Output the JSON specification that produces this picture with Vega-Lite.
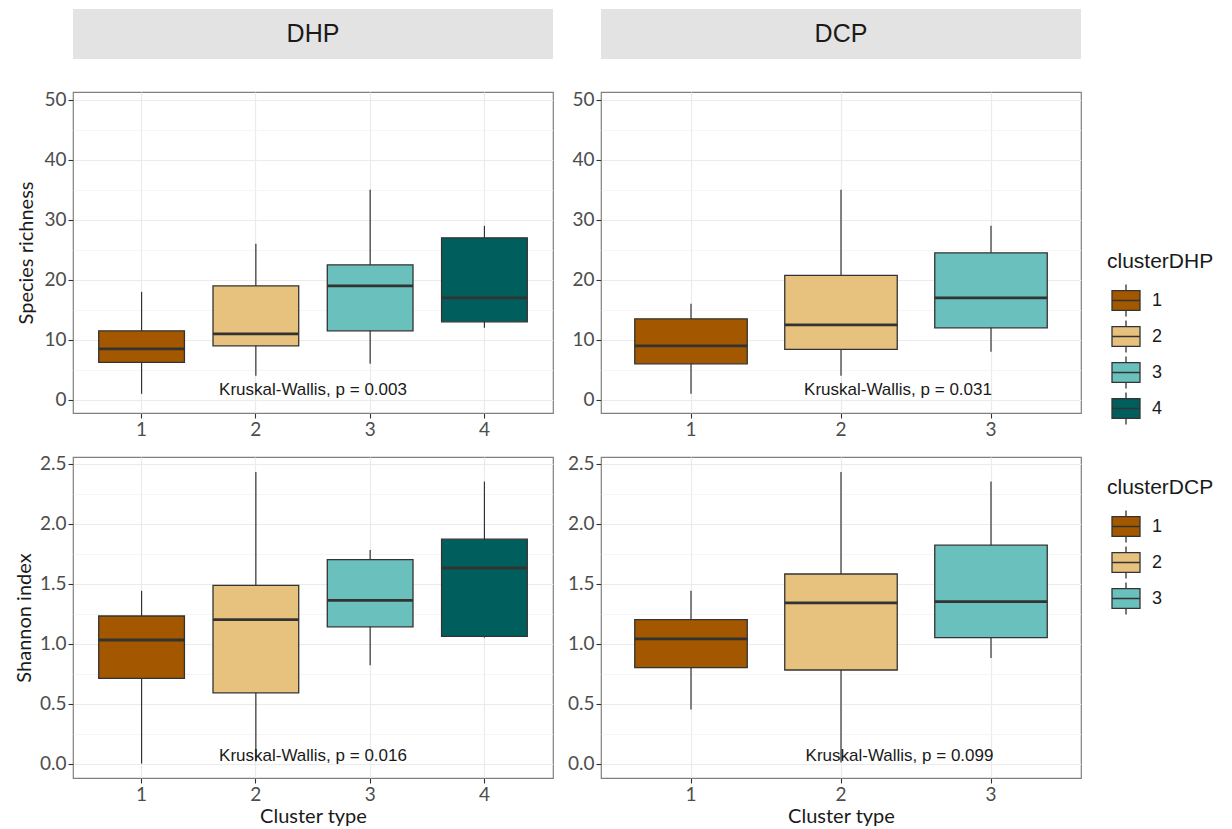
{
  "$schema": "https://vega.github.io/schema/vega-lite/v6.json",
  "background": "white",
  "padding": {"left": 13, "top": 9, "right": 0, "bottom": 0},
  "columns": 2,
  "spacing": {"row": 14, "column": 12},
  "datasets": {
    "dhp_rich": [
      {"clusterDHP": "1", "lower": 1, "q1": 6.25, "median": 8.5, "q3": 11.5, "upper": 18},
      {"clusterDHP": "2", "lower": 4, "q1": 9, "median": 11, "q3": 19, "upper": 26},
      {"clusterDHP": "3", "lower": 6, "q1": 11.5, "median": 19, "q3": 22.5, "upper": 35},
      {"clusterDHP": "4", "lower": 12, "q1": 13, "median": 17, "q3": 27, "upper": 29}
    ],
    "dcp_rich": [
      {"clusterDCP": "1", "lower": 1, "q1": 6, "median": 9, "q3": 13.5, "upper": 16},
      {"clusterDCP": "2", "lower": 4, "q1": 8.4, "median": 12.5, "q3": 20.75, "upper": 35},
      {"clusterDCP": "3", "lower": 8, "q1": 12, "median": 17, "q3": 24.5, "upper": 29}
    ],
    "dhp_shan": [
      {"clusterDHP": "1", "lower": 0, "q1": 0.71, "median": 1.03, "q3": 1.23, "upper": 1.44},
      {"clusterDHP": "2", "lower": 0.02, "q1": 0.59, "median": 1.2, "q3": 1.485, "upper": 2.43},
      {"clusterDHP": "3", "lower": 0.82, "q1": 1.14, "median": 1.36, "q3": 1.7, "upper": 1.78},
      {"clusterDHP": "4", "lower": 1.05, "q1": 1.06, "median": 1.63, "q3": 1.87, "upper": 2.35}
    ],
    "dcp_shan": [
      {"clusterDCP": "1", "lower": 0.45, "q1": 0.8, "median": 1.04, "q3": 1.2, "upper": 1.44},
      {"clusterDCP": "2", "lower": 0.01, "q1": 0.78, "median": 1.34, "q3": 1.58, "upper": 2.43},
      {"clusterDCP": "3", "lower": 0.88, "q1": 1.05, "median": 1.35, "q3": 1.82, "upper": 2.35}
    ]
  },
  "concat": [
    {
      "width": 480, "height": 50,
      "view": {"fill": "#E3E3E3", "stroke": null},
      "data": {"values": [{"panel": "DHP"}]},
      "mark": {"type": "text", "font": "Liberation Sans", "fontSize": 25, "color": "#1A1A1A"},
      "encoding": {
        "text": {"field": "panel"},
        "x": {"field": "panel", "type": "nominal", "axis": {"labels": false, "ticks": false, "domain": false, "grid": false, "title": null, "minExtent": 17}}
      }
    },
    {
      "width": 480, "height": 50,
      "view": {"fill": "#E3E3E3", "stroke": null},
      "data": {"values": [{"panel": "DCP"}]},
      "mark": {"type": "text", "font": "Liberation Sans", "fontSize": 25, "color": "#1A1A1A"},
      "encoding": {
        "text": {"field": "panel"},
        "x": {"field": "panel", "type": "nominal", "axis": {"labels": false, "ticks": false, "domain": false, "grid": false, "title": null, "minExtent": 17}}
      }
    },
    {
      "width": 480, "height": 321,
      "data": {"name": "dhp_rich"},
      "resolve": {"axis": {"y": "independent"}},
      "layer": [
        {
          "mark": {"type": "rule", "color": "#333333", "strokeWidth": 1.2},
          "encoding": {
            "x": {"field": "clusterDHP", "type": "nominal", "scale": {"type": "band", "domain": ["1", "2", "3", "4"], "paddingInner": 0, "paddingOuter": 0.1}, "axis": {"grid": true, "bandPosition": 0.5, "labelAngle": 0, "title": null}},
            "y": {"field": "lower", "type": "quantitative", "scale": {"domain": [-2.2, 51.3], "nice": false, "zero": false}, "axis": {"orient": "left", "values": [5, 15, 25, 35, 45], "grid": true, "gridColor": "#F2F2F2", "gridWidth": 0.8, "labels": false, "ticks": false, "title": null, "minExtent": 0}},
            "y2": {"field": "upper"}
          }
        },
        {
          "mark": {"type": "bar", "stroke": "#333333", "strokeWidth": 1.3, "width": {"band": 0.75}},
          "encoding": {
            "x": {"field": "clusterDHP", "type": "nominal", "scale": {"type": "band", "domain": ["1", "2", "3", "4"], "paddingInner": 0, "paddingOuter": 0.1}, "axis": {"grid": true, "bandPosition": 0.5, "labelAngle": 0, "title": null}},
            "y": {"field": "q1", "type": "quantitative", "scale": {"domain": [-2.2, 51.3], "nice": false, "zero": false}, "axis": {"orient": "left", "values": [0, 10, 20, 30, 40, 50], "grid": true, "title": "Species richness", "minExtent": 32, "titlePadding": 5}},
            "y2": {"field": "q3"},
            "color": {"field": "clusterDHP", "type": "nominal", "scale": {"domain": ["1", "2", "3", "4"], "range": ["#A35800", "#E6C27E", "#6AC0BC", "#005F5C"]}, "legend": {"title": "clusterDHP", "orient": "none", "legendX": 1034, "legendY": 242}}
          }
        },
        {
          "mark": {"type": "tick", "color": "#333333", "opacity": 1, "thickness": 2.8, "size": 85.7},
          "encoding": {
            "x": {"field": "clusterDHP", "type": "nominal", "scale": {"type": "band", "domain": ["1", "2", "3", "4"], "paddingInner": 0, "paddingOuter": 0.1}, "axis": {"grid": true, "bandPosition": 0.5, "labelAngle": 0, "title": null}},
            "y": {"field": "median", "type": "quantitative", "scale": {"domain": [-2.2, 51.3], "nice": false, "zero": false}, "axis": null}
          }
        },
        {
          "data": {"values": [{"clusterDHP": "2", "label": "Kruskal-Wallis, p = 0.003"}]},
          "mark": {"type": "text", "font": "Liberation Sans", "fontSize": 17, "color": "#1A1A1A", "baseline": "middle"},
          "encoding": {
            "x": {"field": "clusterDHP", "type": "nominal", "bandPosition": 1, "scale": {"type": "band", "domain": ["1", "2", "3", "4"], "paddingInner": 0, "paddingOuter": 0.1}, "axis": {"grid": true, "bandPosition": 0.5, "labelAngle": 0, "title": null}},
            "y": {"datum": 1.6, "type": "quantitative", "scale": {"domain": [-2.2, 51.3], "nice": false, "zero": false}, "axis": null},
            "text": {"field": "label"}
          }
        }
      ]
    },
    {
      "width": 480, "height": 321,
      "data": {"name": "dcp_rich"},
      "resolve": {"axis": {"y": "independent"}},
      "layer": [
        {
          "mark": {"type": "rule", "color": "#333333", "strokeWidth": 1.2},
          "encoding": {
            "x": {"field": "clusterDCP", "type": "nominal", "scale": {"type": "band", "domain": ["1", "2", "3"], "paddingInner": 0, "paddingOuter": 0.1}, "axis": {"grid": true, "bandPosition": 0.5, "labelAngle": 0, "title": null}},
            "y": {"field": "lower", "type": "quantitative", "scale": {"domain": [-2.2, 51.3], "nice": false, "zero": false}, "axis": {"orient": "left", "values": [5, 15, 25, 35, 45], "grid": true, "gridColor": "#F2F2F2", "gridWidth": 0.8, "labels": false, "ticks": false, "title": null, "minExtent": 0}},
            "y2": {"field": "upper"}
          }
        },
        {
          "mark": {"type": "bar", "stroke": "#333333", "strokeWidth": 1.3, "width": {"band": 0.75}},
          "encoding": {
            "x": {"field": "clusterDCP", "type": "nominal", "scale": {"type": "band", "domain": ["1", "2", "3"], "paddingInner": 0, "paddingOuter": 0.1}, "axis": {"grid": true, "bandPosition": 0.5, "labelAngle": 0, "title": null}},
            "y": {"field": "q1", "type": "quantitative", "scale": {"domain": [-2.2, 51.3], "nice": false, "zero": false}, "axis": {"orient": "left", "values": [0, 10, 20, 30, 40, 50], "grid": true, "title": null, "minExtent": 32}},
            "y2": {"field": "q3"},
            "fill": {"field": "clusterDCP", "type": "nominal", "scale": {"domain": ["1", "2", "3"], "range": ["#A35800", "#E6C27E", "#6AC0BC"]}, "legend": {"title": "clusterDCP", "orient": "none", "legendX": 1034, "legendY": 468}}
          }
        },
        {
          "mark": {"type": "tick", "color": "#333333", "opacity": 1, "thickness": 2.8, "size": 112.5},
          "encoding": {
            "x": {"field": "clusterDCP", "type": "nominal", "scale": {"type": "band", "domain": ["1", "2", "3"], "paddingInner": 0, "paddingOuter": 0.1}, "axis": {"grid": true, "bandPosition": 0.5, "labelAngle": 0, "title": null}},
            "y": {"field": "median", "type": "quantitative", "scale": {"domain": [-2.2, 51.3], "nice": false, "zero": false}, "axis": null}
          }
        },
        {
          "data": {"values": [{"clusterDCP": "2", "label": "Kruskal-Wallis, p = 0.031"}]},
          "mark": {"type": "text", "font": "Liberation Sans", "fontSize": 17, "color": "#1A1A1A", "baseline": "middle"},
          "encoding": {
            "x": {"field": "clusterDCP", "type": "nominal", "bandPosition": 0.88, "scale": {"type": "band", "domain": ["1", "2", "3"], "paddingInner": 0, "paddingOuter": 0.1}, "axis": {"grid": true, "bandPosition": 0.5, "labelAngle": 0, "title": null}},
            "y": {"datum": 1.6, "type": "quantitative", "scale": {"domain": [-2.2, 51.3], "nice": false, "zero": false}, "axis": null},
            "text": {"field": "label"}
          }
        }
      ]
    },
    {
      "width": 480, "height": 321,
      "data": {"name": "dhp_shan"},
      "resolve": {"axis": {"y": "independent"}},
      "layer": [
        {
          "mark": {"type": "rule", "color": "#333333", "strokeWidth": 1.2},
          "encoding": {
            "x": {"field": "clusterDHP", "type": "nominal", "scale": {"type": "band", "domain": ["1", "2", "3", "4"], "paddingInner": 0, "paddingOuter": 0.1}, "axis": {"grid": true, "bandPosition": 0.5, "labelAngle": 0, "title": "Cluster type", "titlePadding": 2}},
            "y": {"field": "lower", "type": "quantitative", "scale": {"domain": [-0.12, 2.555], "nice": false, "zero": false}, "axis": {"orient": "left", "values": [0.25, 0.75, 1.25, 1.75, 2.25], "grid": true, "gridColor": "#F2F2F2", "gridWidth": 0.8, "labels": false, "ticks": false, "title": null, "minExtent": 0}},
            "y2": {"field": "upper"}
          }
        },
        {
          "mark": {"type": "bar", "stroke": "#333333", "strokeWidth": 1.3, "width": {"band": 0.75}},
          "encoding": {
            "x": {"field": "clusterDHP", "type": "nominal", "scale": {"type": "band", "domain": ["1", "2", "3", "4"], "paddingInner": 0, "paddingOuter": 0.1}, "axis": {"grid": true, "bandPosition": 0.5, "labelAngle": 0, "title": "Cluster type", "titlePadding": 2}},
            "y": {"field": "q1", "type": "quantitative", "scale": {"domain": [-0.12, 2.555], "nice": false, "zero": false}, "axis": {"orient": "left", "values": [0, 0.5, 1, 1.5, 2, 2.5], "format": ".1f", "grid": true, "title": "Shannon index", "minExtent": 32, "titlePadding": 5}},
            "y2": {"field": "q3"},
            "color": {"field": "clusterDHP", "type": "nominal", "scale": {"domain": ["1", "2", "3", "4"], "range": ["#A35800", "#E6C27E", "#6AC0BC", "#005F5C"]}, "legend": {"title": "clusterDHP", "orient": "none", "legendX": 1034, "legendY": 242}}
          }
        },
        {
          "mark": {"type": "tick", "color": "#333333", "opacity": 1, "thickness": 2.8, "size": 85.7},
          "encoding": {
            "x": {"field": "clusterDHP", "type": "nominal", "scale": {"type": "band", "domain": ["1", "2", "3", "4"], "paddingInner": 0, "paddingOuter": 0.1}, "axis": {"grid": true, "bandPosition": 0.5, "labelAngle": 0, "title": "Cluster type", "titlePadding": 2}},
            "y": {"field": "median", "type": "quantitative", "scale": {"domain": [-0.12, 2.555], "nice": false, "zero": false}, "axis": null}
          }
        },
        {
          "data": {"values": [{"clusterDHP": "2", "label": "Kruskal-Wallis, p = 0.016"}]},
          "mark": {"type": "text", "font": "Liberation Sans", "fontSize": 17, "color": "#1A1A1A", "baseline": "middle"},
          "encoding": {
            "x": {"field": "clusterDHP", "type": "nominal", "bandPosition": 1, "scale": {"type": "band", "domain": ["1", "2", "3", "4"], "paddingInner": 0, "paddingOuter": 0.1}, "axis": {"grid": true, "bandPosition": 0.5, "labelAngle": 0, "title": "Cluster type", "titlePadding": 2}},
            "y": {"datum": 0.06, "type": "quantitative", "scale": {"domain": [-0.12, 2.555], "nice": false, "zero": false}, "axis": null},
            "text": {"field": "label"}
          }
        }
      ]
    },
    {
      "width": 480, "height": 321,
      "data": {"name": "dcp_shan"},
      "resolve": {"axis": {"y": "independent"}},
      "layer": [
        {
          "mark": {"type": "rule", "color": "#333333", "strokeWidth": 1.2},
          "encoding": {
            "x": {"field": "clusterDCP", "type": "nominal", "scale": {"type": "band", "domain": ["1", "2", "3"], "paddingInner": 0, "paddingOuter": 0.1}, "axis": {"grid": true, "bandPosition": 0.5, "labelAngle": 0, "title": "Cluster type", "titlePadding": 2}},
            "y": {"field": "lower", "type": "quantitative", "scale": {"domain": [-0.12, 2.555], "nice": false, "zero": false}, "axis": {"orient": "left", "values": [0.25, 0.75, 1.25, 1.75, 2.25], "grid": true, "gridColor": "#F2F2F2", "gridWidth": 0.8, "labels": false, "ticks": false, "title": null, "minExtent": 0}},
            "y2": {"field": "upper"}
          }
        },
        {
          "mark": {"type": "bar", "stroke": "#333333", "strokeWidth": 1.3, "width": {"band": 0.75}},
          "encoding": {
            "x": {"field": "clusterDCP", "type": "nominal", "scale": {"type": "band", "domain": ["1", "2", "3"], "paddingInner": 0, "paddingOuter": 0.1}, "axis": {"grid": true, "bandPosition": 0.5, "labelAngle": 0, "title": "Cluster type", "titlePadding": 2}},
            "y": {"field": "q1", "type": "quantitative", "scale": {"domain": [-0.12, 2.555], "nice": false, "zero": false}, "axis": {"orient": "left", "values": [0, 0.5, 1, 1.5, 2, 2.5], "format": ".1f", "grid": true, "title": null, "minExtent": 32}},
            "y2": {"field": "q3"},
            "fill": {"field": "clusterDCP", "type": "nominal", "scale": {"domain": ["1", "2", "3"], "range": ["#A35800", "#E6C27E", "#6AC0BC"]}, "legend": {"title": "clusterDCP", "orient": "none", "legendX": 1034, "legendY": 468}}
          }
        },
        {
          "mark": {"type": "tick", "color": "#333333", "opacity": 1, "thickness": 2.8, "size": 112.5},
          "encoding": {
            "x": {"field": "clusterDCP", "type": "nominal", "scale": {"type": "band", "domain": ["1", "2", "3"], "paddingInner": 0, "paddingOuter": 0.1}, "axis": {"grid": true, "bandPosition": 0.5, "labelAngle": 0, "title": "Cluster type", "titlePadding": 2}},
            "y": {"field": "median", "type": "quantitative", "scale": {"domain": [-0.12, 2.555], "nice": false, "zero": false}, "axis": null}
          }
        },
        {
          "data": {"values": [{"clusterDCP": "2", "label": "Kruskal-Wallis, p = 0.099"}]},
          "mark": {"type": "text", "font": "Liberation Sans", "fontSize": 17, "color": "#1A1A1A", "baseline": "middle"},
          "encoding": {
            "x": {"field": "clusterDCP", "type": "nominal", "bandPosition": 0.89, "scale": {"type": "band", "domain": ["1", "2", "3"], "paddingInner": 0, "paddingOuter": 0.1}, "axis": {"grid": true, "bandPosition": 0.5, "labelAngle": 0, "title": "Cluster type", "titlePadding": 2}},
            "y": {"datum": 0.06, "type": "quantitative", "scale": {"domain": [-0.12, 2.555], "nice": false, "zero": false}, "axis": null},
            "text": {"field": "label"}
          }
        }
      ]
    }
  ],
  "config": {
    "view": {"stroke": "#808080", "strokeWidth": 1.2},
    "axis": {
      "labelFont": "Lato", "labelFontSize": 19, "labelColor": "#4D4D4D",
      "titleFont": "Lato", "titleFontSize": 20, "titleFontWeight": "normal", "titleColor": "#1A1A1A",
      "tickColor": "#333333", "tickSize": 5, "tickWidth": 1.1, "labelPadding": 2,
      "domain": false, "gridColor": "#EBEBEB", "gridWidth": 1.2
    },
    "legend": {
      "titleFont": "Liberation Sans", "titleFontSize": 21, "titleFontWeight": "normal", "titleColor": "#1A1A1A",
      "labelFont": "Liberation Sans", "labelFontSize": 18, "labelColor": "#1A1A1A",
      "symbolType": "M-1,-0.7H1V0.7H-1Z M-1,0H1 M0,-0.7V-1.15 M0,0.7V1.15",
      "symbolSize": 784, "symbolStrokeColor": "#333333", "symbolStrokeWidth": 1.3, "symbolOpacity": 1,
      "symbolOffset": 4, "labelOffset": 11, "rowPadding": -2, "titlePadding": 13.5, "padding": 0
    }
  }
}
